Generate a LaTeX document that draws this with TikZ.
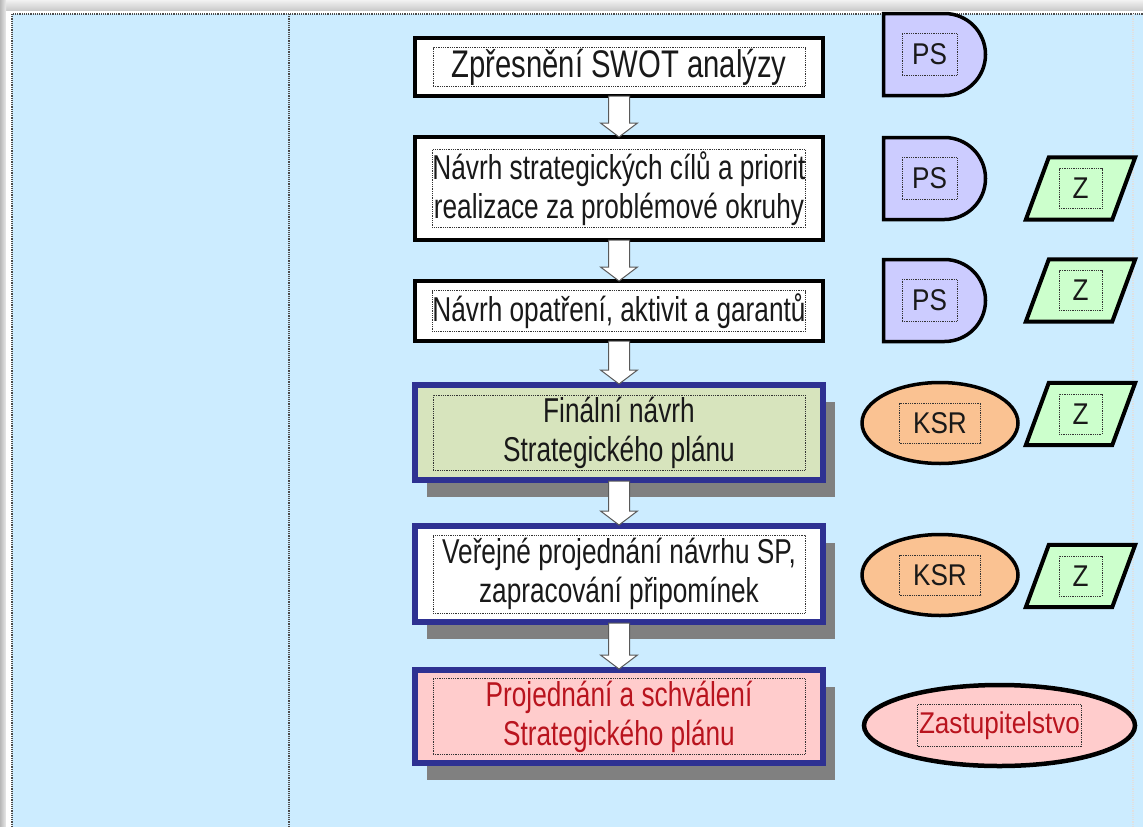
\documentclass[tikz,border=0pt]{standalone}
\usepackage{fontspec}
\setmainfont[FakeStretch=0.76]{Liberation Sans}
\newfontfamily\shapefont[FakeStretch=0.87]{Liberation Sans}
\usetikzlibrary{shapes.geometric, shapes.misc, positioning, shadows}

\definecolor{bgblue}{RGB}{204,236,255}
\definecolor{frameblue}{RGB}{46,49,146}
\definecolor{finalgreen}{RGB}{215,228,189}
\definecolor{approvepink}{RGB}{255,204,204}
\definecolor{psviolet}{RGB}{204,204,255}
\definecolor{ksrpeach}{RGB}{250,194,146}
\definecolor{zgreen}{RGB}{204,255,204}
\definecolor{approvered}{RGB}{185,20,30}

% white block arrow from one stage down to the next
\newcommand{\flowarrow}[2]{%
  \draw[blockarrow] ([xshift=-10.5pt,yshift=2pt]#1.south)
    -- ([xshift=-10.5pt,yshift=12pt]#2.north) -- ([xshift=-18.5pt,yshift=12pt]#2.north)
    -- ([yshift=-2pt]#2.north)
    -- ([xshift=18.5pt,yshift=12pt]#2.north) -- ([xshift=10.5pt,yshift=12pt]#2.north)
    -- ([xshift=10.5pt,yshift=2pt]#1.south) -- cycle;}

% slanted outline round a notice node
\newcommand{\noticeshape}[1]{%
  \draw[noticeedge] ([xshift=23pt]#1.north west) -- (#1.north east)
    -- ([xshift=-23pt]#1.south east) -- (#1.south west) -- cycle;}

\begin{document}
\begin{tikzpicture}[
    x=1pt, y=-1pt,
    frameline/.style={densely dotted, line width=1.2pt, draw=black!70},
    stage/.style={
        rectangle,
        draw=black,
        line width=4pt,
        fill=white,
        minimum width=408pt,
        inner sep=0pt
    },
    keystage/.style={
        stage,
        draw=frameblue,
        line width=6pt,
        drop shadow={shadow xshift=12pt, shadow yshift=-17pt, fill=black!50, opacity=1}
    },
    textframe/.style={
        rectangle,
        draw=black!80,
        densely dotted,
        line width=0.8pt,
        minimum width=372pt,
        inner sep=0pt,
        align=center,
        text=black!90,
        font=\fontsize{34.5}{39}\selectfont
    },
    tagframe/.style={
        textframe,
        minimum width=55pt,
        minimum height=42pt,
        font=\shapefont\fontsize{30}{34}\selectfont
    },
    team/.style={
        rounded rectangle,
        rounded rectangle left arc=none,
        draw,
        line width=3.5pt,
        fill=psviolet,
        minimum width=102pt,
        minimum height=82pt,
        inner sep=0pt
    },
    board/.style={
        ellipse,
        draw,
        line width=3.5pt,
        fill=ksrpeach,
        minimum width=156pt,
        minimum height=81pt,
        inner sep=0pt
    },
    council/.style={board, fill=approvepink, minimum width=271pt, line width=4.5pt},
    notice/.style={
        rectangle,
        minimum width=109pt,
        minimum height=62pt,
        inner sep=0pt
    },
    noticeedge/.style={draw=black, line width=4pt, fill=zgreen, line join=miter},
    blockarrow/.style={draw=black!65, line width=1pt, fill=white, line join=miter}
]
    \useasboundingbox (0,0) rectangle (1143,827);

    % SLIDE FRAME
    \fill[top color=black!5, bottom color=black!22] (0,0) rectangle (1143,11);
    \fill[left color=black!28, right color=black!8] (0,0) rectangle (6,827);
    \fill[white] (6,11) rectangle (1143,827);
    \draw[frameline, fill=bgblue] (12,14) rectangle (1150,835);
    \draw[frameline] (289,14) -- (289,827);
    \draw[frameline, draw=black!12] (1133,14) -- (1133,827);

    % PROCESS STAGES
    \node[stage, minimum height=58pt] (swot) at (619,67) {};
    \node[textframe, font=\fontsize{38.5}{42}\selectfont, minimum height=39pt] (swottxt) at (swot.center) {Zpřesnění SWOT analýzy};

    \node[stage, minimum height=103pt, below=37pt of swot] (goals) {};
    \node[textframe, minimum height=78pt] (goalstxt) at (goals.center) {Návrh strategických cílů a priorit\\realizace za problémové okruhy};

    \node[stage, minimum height=60pt, below=37pt of goals] (measures) {};
    \node[textframe, minimum height=41pt] (measurestxt) at (measures.center) {Návrh opatření, aktivit a garantů};

    \node[keystage, fill=finalgreen, minimum height=95pt, below=39pt of measures] (final) {};
    \node[textframe, minimum height=75pt] (finaltxt) at (final.center) {Finální návrh\\Strategického plánu};

    \node[keystage, minimum height=96pt, below=40pt of final] (public) {};
    \node[textframe, minimum height=78pt] (publictxt) at (public.center) {Veřejné projednání návrhu SP,\\zapracování připomínek};

    \node[keystage, fill=approvepink, minimum height=93pt, below=42pt of public] (approval) {};
    \node[textframe, text=approvered, minimum height=76pt] (approvaltxt) at (approval.center) {Projednání a schválení\\Strategického plánu};

    % ARROWS BETWEEN STAGES
    \foreach \a/\b in {swot/goals, goals/measures, measures/final, final/public, public/approval}
        \flowarrow{\a}{\b};

    % WORKING GROUPS (PS)
    \node[team] (ps1) at (934.5,54.5) {};
    \node[tagframe] (ps1txt) at ([xshift=-5pt]ps1.center) {PS};
    \node[team] (ps2) at (934.5,178.5) {};
    \node[tagframe] (ps2txt) at ([xshift=-5pt]ps2.center) {PS};
    \node[team] (ps3) at (934.5,300.5) {};
    \node[tagframe] (ps3txt) at ([xshift=-5pt]ps3.center) {PS};

    % KSR
    \node[board] (ksr1) at (940,423) {};
    \node[tagframe, minimum width=81pt, minimum height=40pt] (ksr1txt) at (ksr1.center) {KSR};
    \node[board] (ksr2) at (940,575) {};
    \node[tagframe, minimum width=81pt, minimum height=40pt] (ksr2txt) at (ksr2.center) {KSR};

    % Z
    \foreach \z/\zy in {z1/188.5, z2/290.5, z3/414, z4/576} {
        \node[notice] (\z) at (1080.5,\zy) {};
        \noticeshape{\z}
        \node[tagframe, minimum width=43pt, minimum height=40pt] (\z txt) at (\z.center) {Z};
    }

    % COUNCIL
    \node[council] (zast) at (999.5,725.5) {};
    \node[tagframe, text=approvered, minimum width=164pt, minimum height=42pt] (zasttxt) at (zast.center) {Zastupitelstvo};

\end{tikzpicture}
\end{document}
